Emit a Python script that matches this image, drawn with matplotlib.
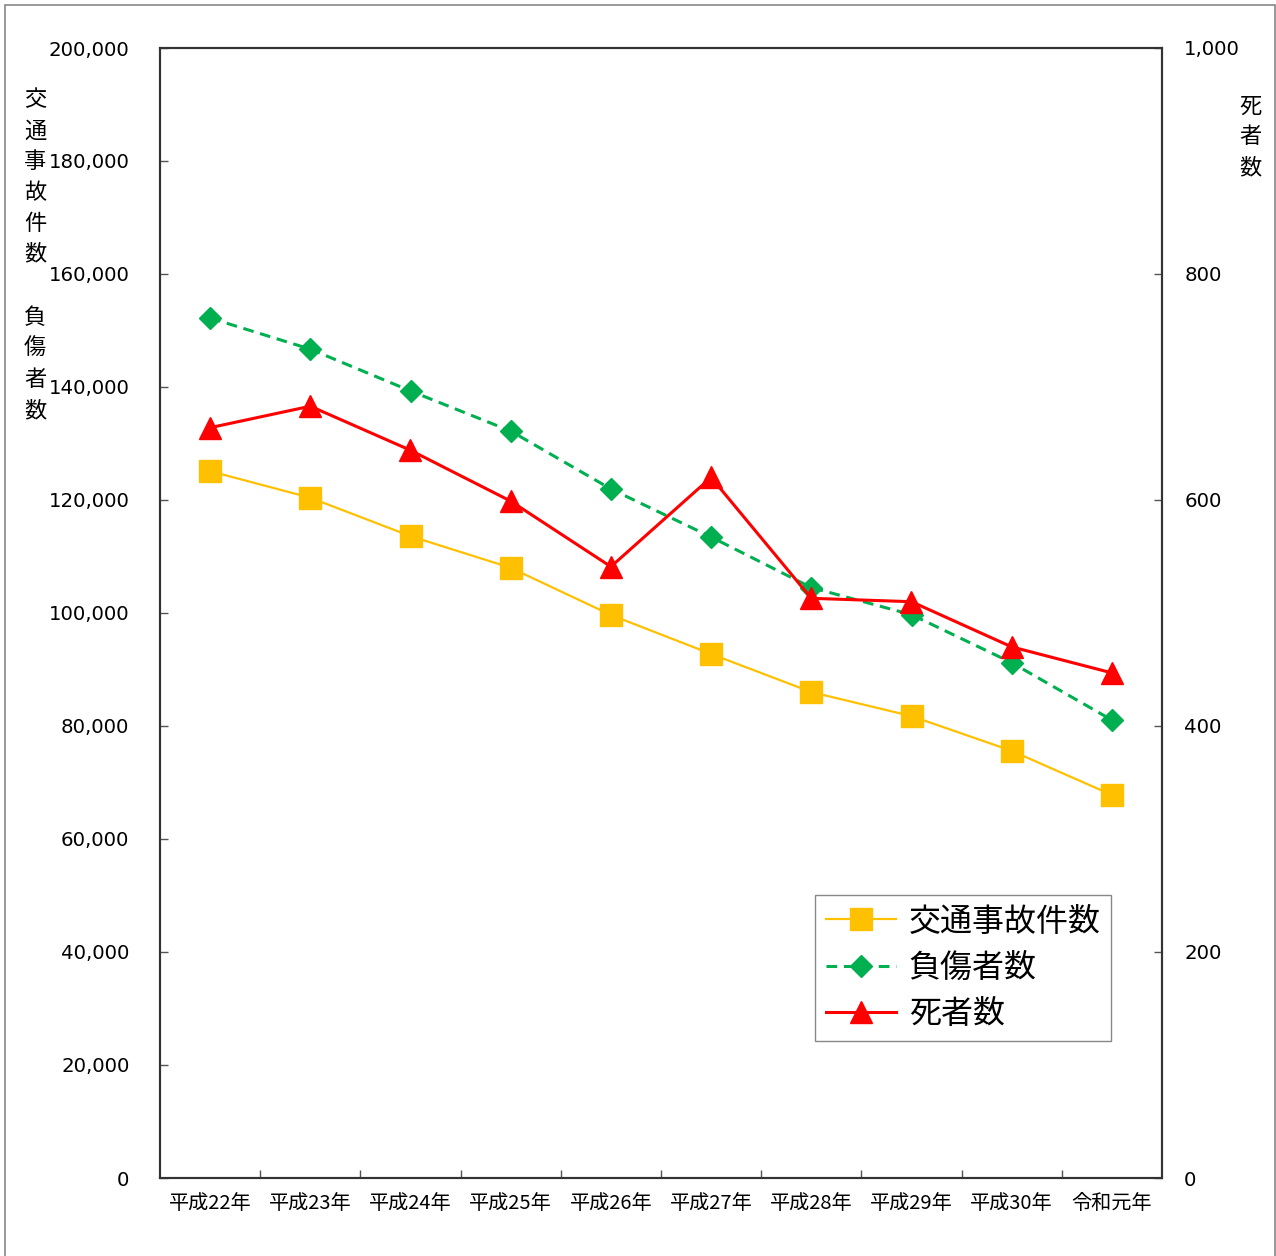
import matplotlib.pyplot as plt
from matplotlib.patches import Rectangle
from matplotlib.ticker import FuncFormatter, MultipleLocator

plt.rcParams["font.family"] = ["Noto Sans CJK JP", "DejaVu Sans"]

years = ["平成22年", "平成23年", "平成24年", "平成25年", "平成26年",
         "平成27年", "平成28年", "平成29年", "平成30年", "令和元年"]
accidents = [125100, 120400, 113600, 108000, 99650, 92750, 86000, 81750, 75600, 67800]
injured = [152200, 146700, 139300, 132200, 121950, 113450, 104500, 99700, 91200, 81050]
deaths = [664, 683, 644, 599, 541, 620, 513, 510, 470, 447]

YELLOW = "#FFC000"
GREEN = "#00B050"
RED = "#FF0000"

W, H = 1276, 1256
fig = plt.figure(figsize=(W / 100, H / 100), dpi=100)
ax = fig.add_axes([160 / W, 1 - 1178 / H, (1162 - 160) / W, (1178 - 48) / H])
ax2 = ax.twinx()

x = list(range(len(years)))
l1, = ax.plot(x, accidents, color=YELLOW, lw=1.6, marker="s", ms=15.5,
              mfc=YELLOW, mec=YELLOW, label="交通事故件数", zorder=3)
l2, = ax.plot(x, injured, color=GREEN, lw=2.2, ls=(0, (3.5, 2.2)), marker="D", ms=11,
              mfc=GREEN, mec=GREEN, label="負傷者数", zorder=3)
l3, = ax2.plot(x, deaths, color=RED, lw=2.2, marker="^", ms=16,
               mfc=RED, mec=RED, label="死者数", zorder=3)

ax.set_xlim(-0.5, len(years) - 0.5)
ax.set_ylim(0, 200000)
ax2.set_ylim(0, 1000)
ax.yaxis.set_major_locator(MultipleLocator(20000))
ax2.yaxis.set_major_locator(MultipleLocator(200))
ax.yaxis.set_major_formatter(FuncFormatter(lambda v, p: f"{int(v):,}"))
ax2.yaxis.set_major_formatter(FuncFormatter(lambda v, p: f"{int(v):,}"))

# category labels sit between the boundary ticks
ax.set_xticks([i + 0.5 for i in x[:-1]])
ax.set_xticklabels([])
ax.set_xticks(x, minor=True)
ax.set_xticklabels(years, minor=True, fontsize=14.5)
ax.tick_params(axis="x", which="major", direction="in", length=6, width=1, color="#555555")
ax.tick_params(axis="x", which="minor", length=0, pad=11)
ax.tick_params(axis="y", direction="in", length=6, width=1, color="#555555", pad=22)
ax2.tick_params(axis="y", direction="in", length=6, width=1, color="#555555", pad=16)
for lab in ax.get_yticklabels() + ax2.get_yticklabels():
    lab.set_fontfamily("DejaVu Sans")
    lab.set_fontsize(14.2)

for a in (ax, ax2):
    for s in a.spines.values():
        s.set_linewidth(1.5)
        s.set_color("#333333")

# stacked vertical axis titles
for i, ch in enumerate("交通事故件数"):
    fig.text(35 / W, 1 - (100 + i * 30.8) / H, ch, fontsize=16, ha="center", va="center")
for i, ch in enumerate("負傷者数"):
    fig.text(35 / W, 1 - (318 + i * 30.8) / H, ch, fontsize=16, ha="center", va="center")
for i, ch in enumerate("死者数"):
    fig.text(1250 / W, 1 - (106 + i * 30.8) / H, ch, fontsize=16, ha="center", va="center")

leg = ax.legend(handles=[l1, l2, l3], loc="upper left",
                bbox_to_anchor=(815 / W, 1 - 895 / H), bbox_transform=fig.transFigure,
                borderaxespad=0, fancybox=False, framealpha=1, edgecolor="#888888",
                fontsize=23, handlelength=2.2, handletextpad=0.4, labelspacing=0.45,
                borderpad=0.33)
leg.get_frame().set_linewidth(1.0)
leg.set_zorder(5)

# outer frame around the figure
fig.patches.append(Rectangle((5 / W, -0.02), 1270 / W, 1.02 - 5 / H, transform=fig.transFigure,
                             fill=False, edgecolor="#888888", lw=1.2))

fig.savefig("out.png", dpi=100)
